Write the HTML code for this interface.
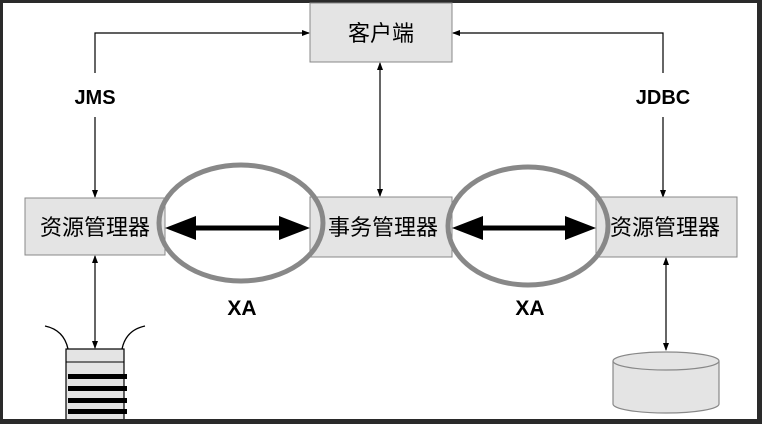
<!DOCTYPE html>
<html><head><meta charset="utf-8"><style>
html,body{margin:0;padding:0;background:#fff}
svg{display:block}
text{font-family:"Liberation Sans","Noto Sans CJK SC",sans-serif}
</style></head><body>
<svg width="762" height="424" viewBox="0 0 762 424">
<defs>
<marker id="a" markerWidth="8" markerHeight="8" refX="7" refY="4" orient="auto" markerUnits="userSpaceOnUse"><path d="M0,1 L8,4 L0,7z" fill="#000"/></marker>
<marker id="b" markerWidth="8" markerHeight="8" refX="1" refY="4" orient="auto" markerUnits="userSpaceOnUse"><path d="M8,1 L0,4 L8,7z" fill="#000"/></marker>
</defs>
<rect x="0" y="0" width="762" height="424" fill="#2a2a2a"/>
<rect x="3" y="3" width="754" height="416" fill="#fff"/>
<polyline points="95,73 95,33 309,33" fill="none" stroke="#000" stroke-width="1.2" marker-end="url(#a)"/>
<line x1="95" y1="117" x2="95" y2="197" stroke="#000" stroke-width="1.2" marker-end="url(#a)"/>
<polyline points="663,73 663,33 453,33" fill="none" stroke="#000" stroke-width="1.2" marker-end="url(#a)"/>
<line x1="663" y1="117" x2="663" y2="197" stroke="#000" stroke-width="1.2" marker-end="url(#a)"/>
<line x1="380" y1="63" x2="380" y2="196" stroke="#000" stroke-width="1.2" marker-start="url(#b)" marker-end="url(#a)"/>
<line x1="95" y1="256" x2="95" y2="348" stroke="#000" stroke-width="1.2" marker-start="url(#b)" marker-end="url(#a)"/>
<line x1="666" y1="258" x2="666" y2="350" stroke="#000" stroke-width="1.2" marker-start="url(#b)" marker-end="url(#a)"/>
<text x="95" y="104" font-size="20" font-weight="bold" text-anchor="middle">JMS</text>
<text x="663" y="104" font-size="20" font-weight="bold" text-anchor="middle">JDBC</text>
<rect x="310" y="3" width="142" height="59" fill="#e4e4e4" stroke="#888" stroke-width="1"/>
<text x="381" y="41" font-size="22" text-anchor="middle">客户端</text>
<rect x="25" y="198" width="140" height="57" fill="#e4e4e4" stroke="#888" stroke-width="1"/>
<text x="95" y="235" font-size="22" text-anchor="middle">资源管理器</text>
<rect x="310" y="197" width="142" height="60" fill="#e4e4e4" stroke="#888" stroke-width="1"/>
<text x="383" y="235" font-size="22" text-anchor="middle">事务管理器</text>
<rect x="596" y="197" width="141" height="60" fill="#e4e4e4" stroke="#888" stroke-width="1"/>
<text x="665" y="235" font-size="22" text-anchor="middle">资源管理器</text>
<ellipse cx="241" cy="223" rx="82" ry="58" fill="none" stroke="#888" stroke-width="5"/>
<ellipse cx="528" cy="226" rx="80" ry="59" fill="none" stroke="#888" stroke-width="5"/>
<line x1="190" y1="228" x2="285" y2="228" stroke="#000" stroke-width="5"/>
<path d="M165,228 L196,216 L196,240z" fill="#000"/>
<path d="M310,228 L279,216 L279,240z" fill="#000"/>
<line x1="477" y1="228" x2="571" y2="228" stroke="#000" stroke-width="5"/>
<path d="M452,228 L483,216 L483,240z" fill="#000"/>
<path d="M596,228 L565,216 L565,240z" fill="#000"/>
<text x="242" y="315" font-size="21" font-weight="bold" text-anchor="middle">XA</text>
<text x="530" y="315" font-size="21" font-weight="bold" text-anchor="middle">XA</text>
<path d="M45,326 Q64,330 68,349" fill="none" stroke="#000" stroke-width="1.3"/>
<path d="M145,326 Q126,330 122,349" fill="none" stroke="#000" stroke-width="1.3"/>
<rect x="66" y="349" width="58" height="72" fill="#e4e4e4" stroke="#000" stroke-width="1.2"/>
<line x1="66" y1="362" x2="124" y2="362" stroke="#000" stroke-width="1"/>
<rect x="68" y="374" width="59" height="5" fill="#000"/>
<rect x="68" y="386" width="59" height="5" fill="#000"/>
<rect x="68" y="398" width="59" height="5" fill="#000"/>
<rect x="68" y="409" width="59" height="5" fill="#000"/>
<path d="M613,361 L613,404 A53,9 0 0 0 719,404 L719,361" fill="#e4e4e4" stroke="#888" stroke-width="1.2"/>
<ellipse cx="666" cy="361" rx="53" ry="9" fill="#e4e4e4" stroke="#888" stroke-width="1.2"/>
<rect x="0" y="419" width="762" height="5" fill="#2a2a2a"/>
<rect x="757" y="0" width="5" height="424" fill="#2a2a2a"/>
</svg>
</body></html>
